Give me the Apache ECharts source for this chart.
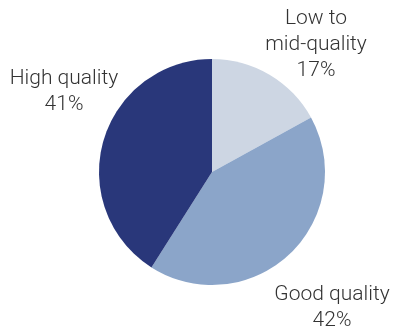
<!DOCTYPE html>
<html>
<head>
<meta charset="utf-8">
<script src="https://cdn.jsdelivr.net/npm/echarts@6/dist/echarts.min.js"></script>
<style>
  html, body { margin: 0; padding: 0; background: #ffffff; }
  #chart { width: 395px; height: 333px; }
</style>
</head>
<body>
<div id="chart"></div>
<script>
// Share of portfolio by credit quality
const categories = ['Low to\nmid-quality', 'Good quality', 'High quality'];
const shares = [17, 42, 41];
const sliceColors = ['#cdd6e3', '#8ba5c9', '#29377a'];

// Label anchor points (block centres) for each slice
const labelAnchors = [
  { x: 316, y: 45 },
  { x: 332, y: 308 },
  { x: 64, y: 92 }
];

const chart = echarts.init(document.getElementById('chart'), null, { renderer: 'canvas' });

chart.setOption({
  animation: false,
  series: [{
    type: 'pie',
    center: [212, 172],
    radius: [0, 113],
    startAngle: 90,
    clockwise: true,
    silent: true,
    avoidLabelOverlap: false,
    itemStyle: { borderWidth: 0 },
    label: {
      show: true,
      position: 'outside',
      formatter: p => p.name + '\n' + p.value + '%',
      fontFamily: 'Roboto',
      fontWeight: 300,
      fontSize: 21,
      lineHeight: 26,
      color: '#333333',
      align: 'center',
      overflow: 'none',
      width: 200
    },
    labelLine: { show: false },
    labelLayout: params => ({
      x: labelAnchors[params.dataIndex].x,
      y: labelAnchors[params.dataIndex].y,
      align: 'center',
      verticalAlign: 'middle'
    }),
    data: categories.map((name, i) => ({
      name: name,
      value: shares[i],
      itemStyle: { color: sliceColors[i] }
    }))
  }]
});
</script>
</body>
</html>
